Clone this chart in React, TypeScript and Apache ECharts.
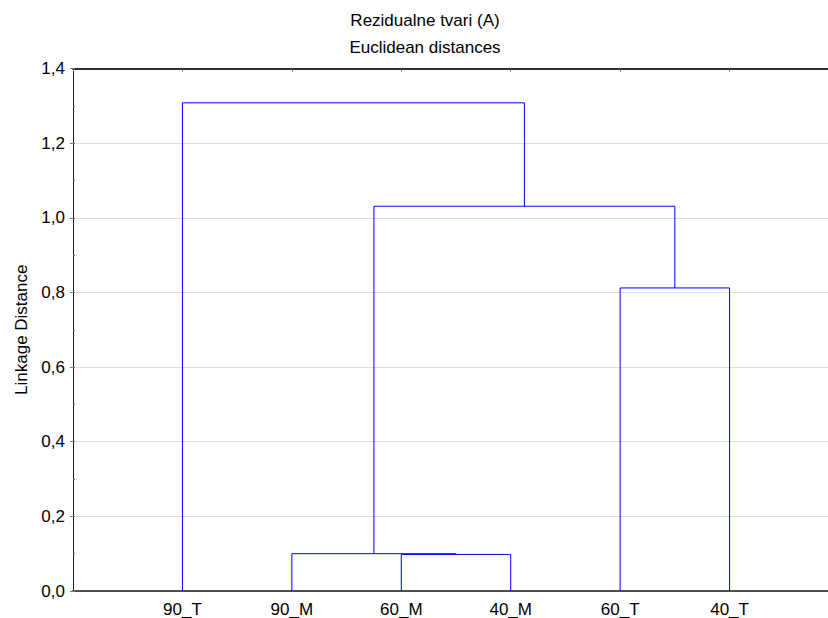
import React, { useEffect, useRef } from "react";
import * as echarts from "echarts";

const leafNames = ["90_T", "90_M", "60_M", "40_M", "60_T", "40_T"];
// merges: node indices (0-5 leaves, 6+ = clusters in merge order)
const mergeLeft = [2, 1, 4, 7, 0];
const mergeRight = [3, 6, 5, 8, 9];
const mergeHeights = [0.098, 0.1, 0.812, 1.031, 1.308];
const yTicks = [0, 0.2, 0.4, 0.6, 0.8, 1.0, 1.2, 1.4];

const titleText = "Rezidualne tvari (A)";
const subtitleText = "Euclidean distances";
const yName = "Linkage Distance";

function buildSegments() {
  const xs: number[] = leafNames.map((_, i) => i + 1);
  const hs: number[] = leafNames.map(() => 0);
  const segs: number[][][] = [];
  mergeLeft.forEach((l, k) => {
    const r = mergeRight[k];
    const h = mergeHeights[k];
    segs.push([
      [xs[l], hs[l]],
      [xs[l], h],
      [xs[r], h],
      [xs[r], hs[r]],
    ]);
    xs.push((xs[l] + xs[r]) / 2);
    hs.push(h);
  });
  return segs;
}

export default function App() {
  const ref = useRef<HTMLDivElement>(null);
  useEffect(() => {
    document.body.style.margin = "0";
    const chart = echarts.init(ref.current!, null, { renderer: "svg" });
    const segs = buildSegments();
    const font = "Arial, 'Liberation Sans', sans-serif";
    const fs = 17;
    chart.setOption({
      animation: false,
      backgroundColor: "#ffffff",
      textStyle: { fontFamily: font },
      graphic: [
        {
          type: "text",
          x: 425,
          y: 20,
          style: {
            text: titleText,
            fontSize: fs,
            fontFamily: font,
            fill: "#000",
            textAlign: "center",
            textVerticalAlign: "middle",
          },
        },
        {
          type: "text",
          x: 425,
          y: 47,
          style: {
            text: subtitleText,
            fontSize: fs,
            fontFamily: font,
            fill: "#000",
            textAlign: "center",
            textVerticalAlign: "middle",
          },
        },
      ],
      grid: { left: 73, right: 3, top: 68.5, bottom: 27, containLabel: false },
      xAxis: [
        {
          type: "value",
          min: 0,
          max: 7,
          interval: 1,
          position: "bottom",
          axisLine: { show: true, onZero: false, lineStyle: { color: "#505050", width: 2 } },
          axisTick: { show: false },
          splitLine: { show: false },
          axisLabel: {
            color: "#000",
            fontSize: fs,
            fontFamily: font,
            margin: 10,
            formatter: (v: number) =>
              v >= 1 && v <= leafNames.length ? leafNames[Math.round(v) - 1] : "",
          },
        },
        {
          type: "value",
          min: 0,
          max: 7,
          interval: 1,
          position: "top",
          axisLine: { show: true, onZero: false, lineStyle: { color: "#303030", width: 2 } },
          axisTick: { show: true, inside: true, length: 3, lineStyle: { color: "#666" } },
          splitLine: { show: false },
          axisLabel: { show: false },
        },
      ],
      yAxis: [
        {
          type: "value",
          min: yTicks[0],
          max: yTicks[yTicks.length - 1],
          interval: 0.2,
          name: yName,
          nameLocation: "middle",
          nameGap: 41,
          nameTextStyle: { color: "#000", fontSize: fs, fontFamily: font },
          axisLine: { show: true, onZero: false, lineStyle: { color: "#222", width: 1 } },
          axisTick: { show: true, length: 3, lineStyle: { color: "#777" } },
          splitLine: { show: true, lineStyle: { color: "#dedede", width: 1 } },
          axisLabel: {
            color: "#000",
            fontSize: fs,
            fontFamily: font,
            margin: 8,
            formatter: (v: number) => v.toFixed(1).replace(".", ","),
          },
        },
        {
          type: "value",
          min: 0,
          max: 1.4,
          interval: 0.1,
          position: "left",
          axisLine: { show: false, onZero: false },
          axisTick: { show: true, inside: true, length: 2, lineStyle: { color: "#777" } },
          splitLine: { show: false },
          axisLabel: { show: false },
        },
      ],
      series: segs.map((s) => ({
        type: "line",
        data: s,
        xAxisIndex: 0,
        yAxisIndex: 0,
        symbol: "none",
        lineStyle: { color: "#0000ff", width: 1 },
        silent: true,
      })),
    });
    return () => chart.dispose();
  }, []);
  return (
    <div style={{ width: 828, height: 618, overflow: "hidden", position: "relative" }}>
      <div ref={ref} style={{ width: 842, height: 618 }} />
    </div>
  );
}
